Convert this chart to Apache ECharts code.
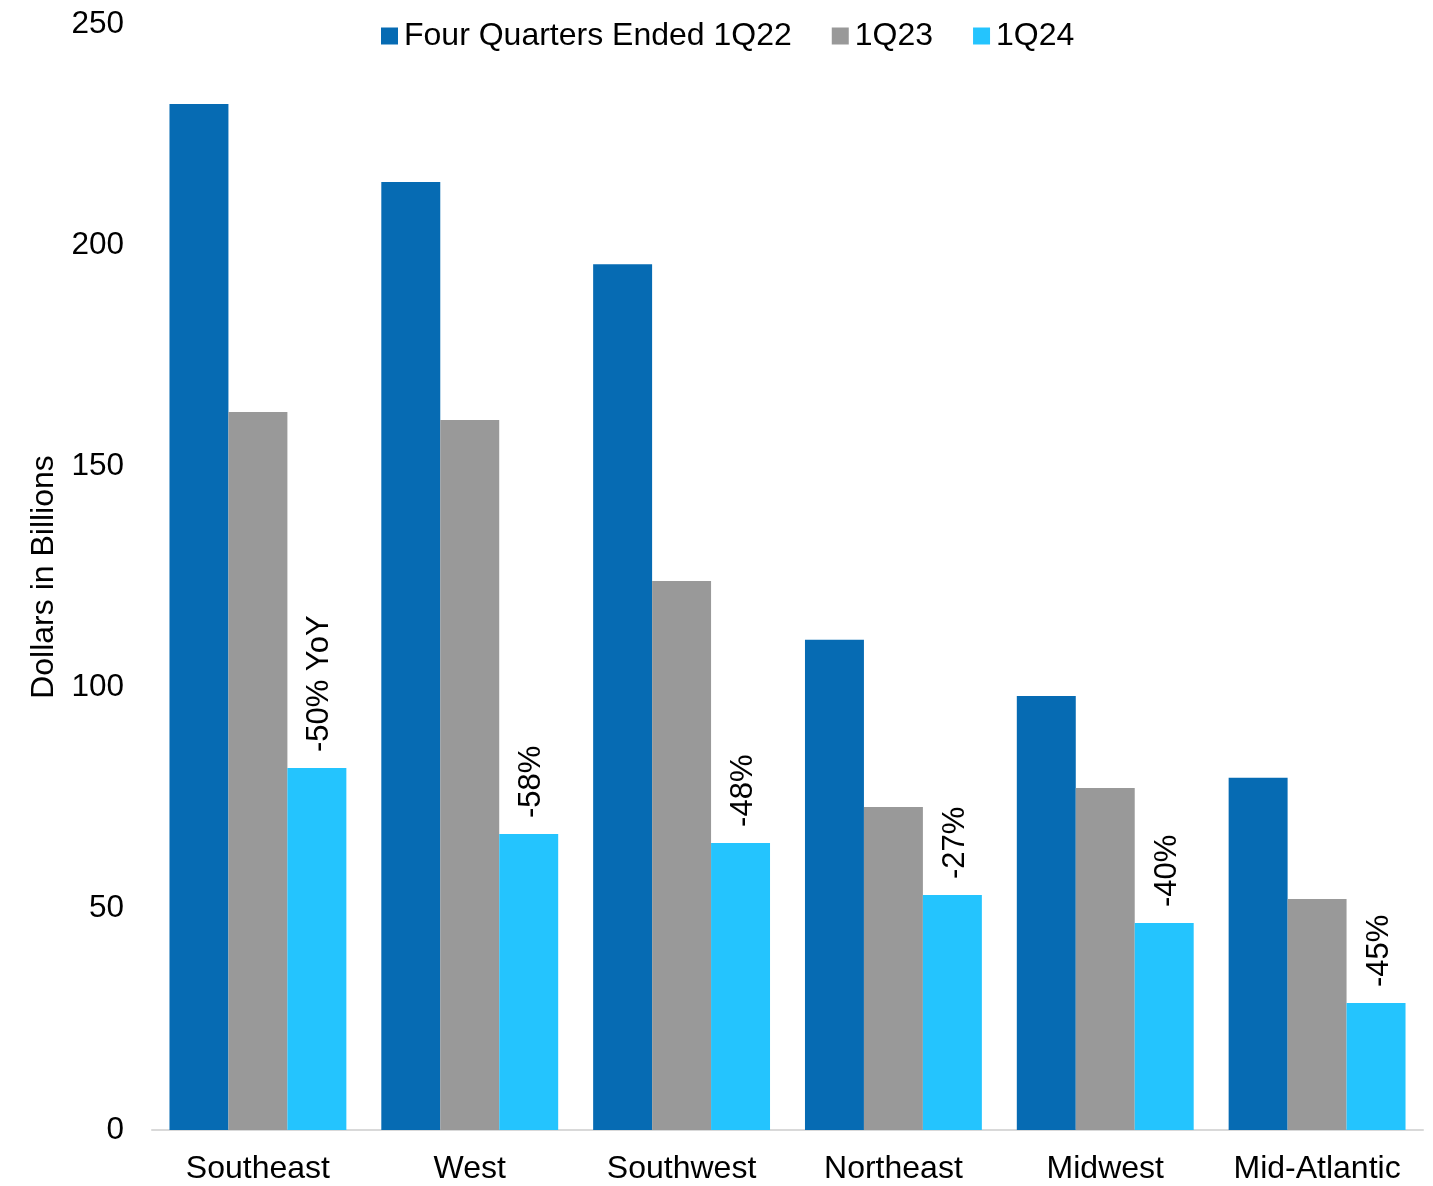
<!DOCTYPE html>
<html>
<head>
<meta charset="utf-8">
<script src="https://cdn.jsdelivr.net/npm/echarts@6/dist/echarts.min.js"></script>
<style>html,body{margin:0;padding:0;background:#fff}#c{width:1433px;height:1186px}</style>
</head>
<body>
<div id="c"></div>
<script>
const categories = ['Southeast', 'West', 'Southwest', 'Northeast', 'Midwest', 'Mid-Atlantic'];
const seriesNames = ['Four Quarters Ended 1Q22', '1Q23', '1Q24'];
const values1Q22 = [231.9, 214.3, 195.7, 110.8, 98.1, 79.6];
const values1Q23 = [162.3, 160.5, 124.1, 73.0, 77.3, 52.2];
const values1Q24 = [81.8, 66.9, 64.9, 53.1, 46.8, 28.7];
const yoyLabels = ['-50% YoY', '-58%', '-48%', '-27%', '-40%', '-45%'];
const yTicks = { min: 0, max: 250, interval: 50 };

const FONT = '"Liberation Sans", Arial, sans-serif';
const chart = echarts.init(document.getElementById('c'), null, { renderer: 'canvas' });
const colors = ['#066BB3', '#999999', '#24C4FE'];

function barSeries(name, data, color, withLabel) {
  const s = {
    name: name,
    type: 'bar',
    data: data,
    barGap: '0%',
    barCategoryGap: '16.5%',
    itemStyle: { color: color },
    emphasis: { disabled: true },
    animation: false
  };
  if (withLabel) {
    s.label = {
      show: true,
      position: 'top',
      rotate: 90,
      align: 'left',
      verticalAlign: 'middle',
      distance: 16,
      fontFamily: FONT,
      fontSize: 31,
      color: '#000',
      offset: [0, 3],
      formatter: p => yoyLabels[p.dataIndex]
    };
  }
  return s;
}

chart.setOption({
  animation: false,
  textStyle: { fontFamily: FONT },
  legend: {
    top: 15,
    left: 376,
    itemWidth: 17,
    itemHeight: 17,
    itemGap: 40,
    icon: 'rect',
    textStyle: { fontFamily: FONT, fontSize: 32, color: '#000', padding: [0, 0, 0, 1] },
    data: seriesNames
  },
  grid: { left: 152, right: 10, top: 24, bottom: 56, containLabel: false },
  xAxis: {
    type: 'category',
    data: categories,
    axisLine: { show: true, lineStyle: { color: '#D9D9D9', width: 2 } },
    axisTick: { show: false },
    axisLabel: { fontFamily: FONT, fontSize: 32, color: '#000', margin: 23, interval: 0 },
    splitLine: { show: false }
  },
  yAxis: {
    type: 'value',
    min: yTicks.min,
    max: yTicks.max,
    interval: yTicks.interval,
    name: 'Dollars in Billions',
    nameLocation: 'middle',
    nameGap: 91,
    nameRotate: 90,
    nameTextStyle: { fontFamily: FONT, fontSize: 32, color: '#000' },
    axisLine: { show: false },
    axisTick: { show: false },
    splitLine: { show: false },
    axisLabel: { fontFamily: FONT, fontSize: 31.5, color: '#000', margin: 28 }
  },
  series: [
    barSeries(seriesNames[0], values1Q22, colors[0], false),
    barSeries(seriesNames[1], values1Q23, colors[1], false),
    barSeries(seriesNames[2], values1Q24, colors[2], true)
  ]
});
</script>
</body>
</html>
